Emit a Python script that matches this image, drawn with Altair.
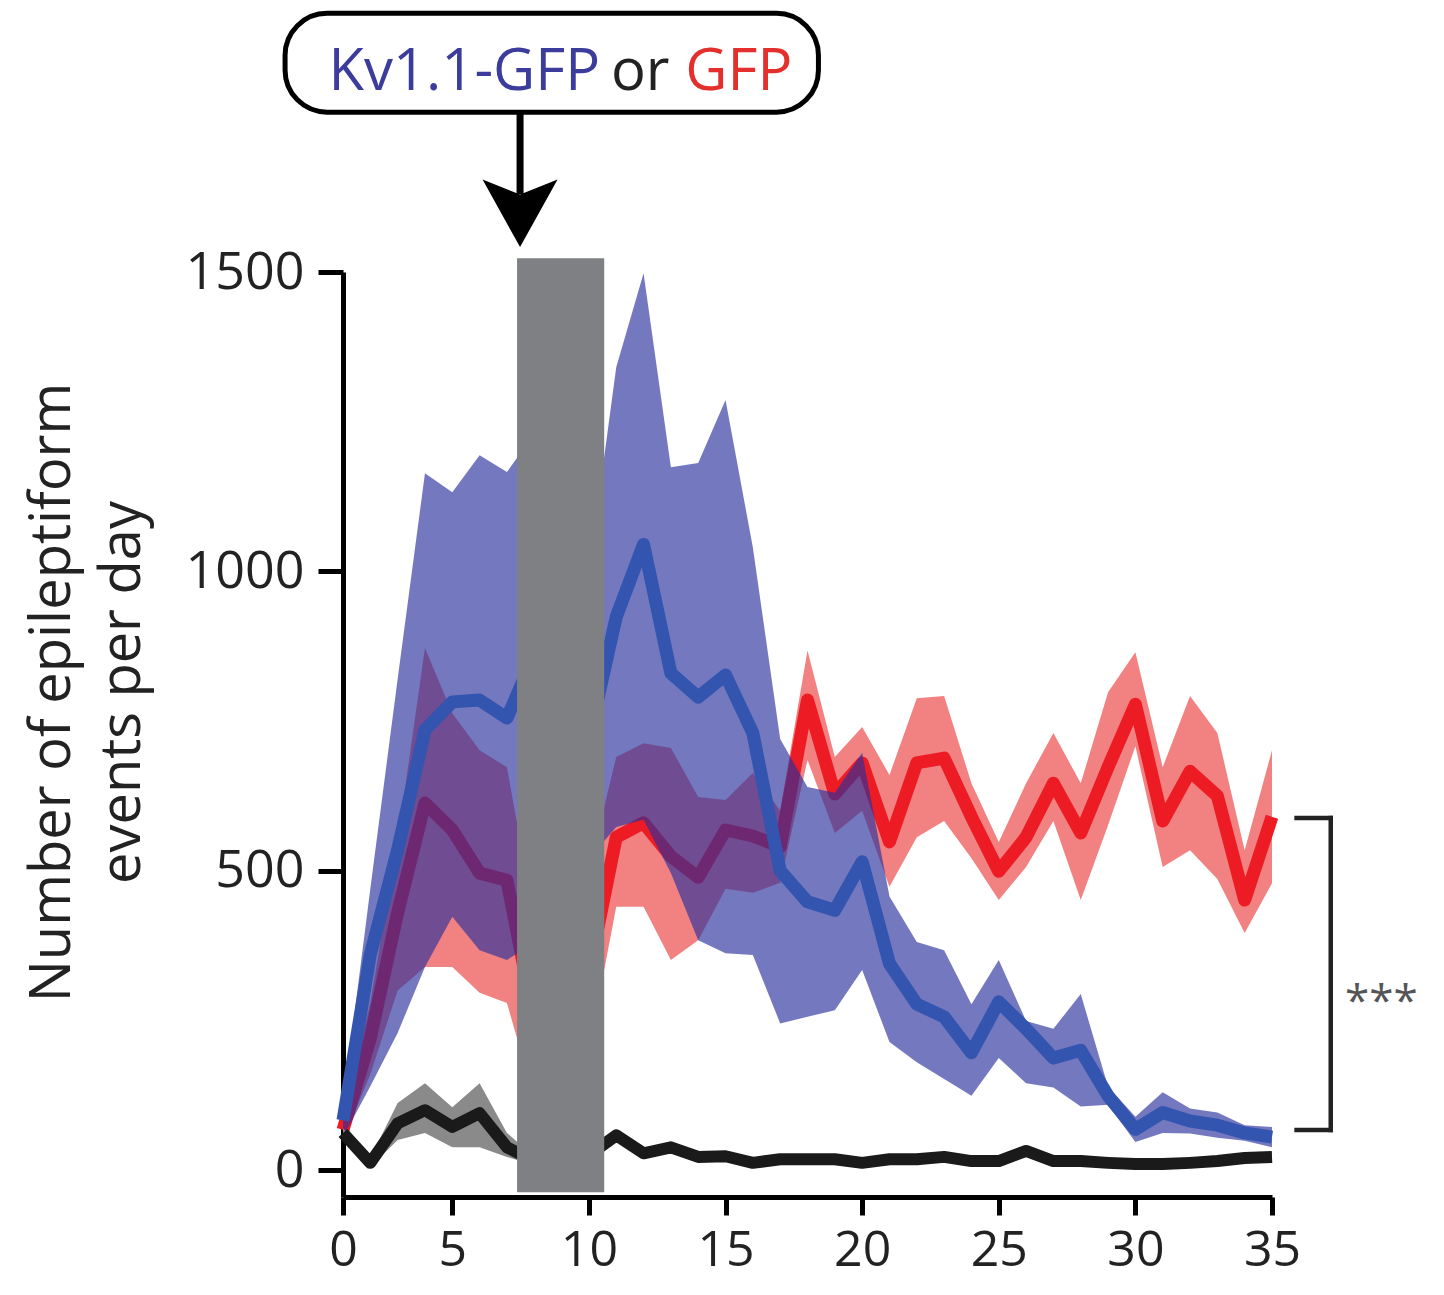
import altair as alt
import pandas as pd

# ---------------- data ----------------
days = list(range(1, 36))

kv_mean = [83, 360, 535, 735, 782, 785, 755, 860, 800, 720,
           924, 1045, 830, 790, 827, 730, 500, 448, 434, 515,
           345, 277, 256, 196, 281, 236, 187, 200, 124, 68,
           96, 82, 75, 62, 55]
kv_hi = [110, 470, 820, 1164, 1132, 1194, 1166, 1230, 1150, 1000,
         1341, 1498, 1174, 1181, 1286, 1040, 720, 640, 630, 697,
         457, 381, 367, 277, 351, 249, 236, 294, 139, 89,
         130, 103, 96, 75, 72]
kv_lo = [55, 140, 229, 339, 423, 367, 351, 380, 450, 520,
         573, 585, 496, 384, 362, 359, 245, 256, 267, 334,
         214, 180, 152, 124, 187, 145, 138, 106, 109, 47,
         62, 61, 54, 49, 38]

gfp_mean = [67, 220, 430, 613, 568, 496, 484, 250, 280, 330,
            556, 580, 524, 489, 568, 558, 540, 785, 628, 680,
            548, 680, 688, 590, 499, 556, 646, 563, 673, 778,
            583, 666, 625, 451, 590]
gfp_hi = [85, 280, 550, 872, 763, 701, 673, 420, 450, 500,
          690, 713, 705, 623, 618, 663, 600, 868, 690, 740,
          660, 788, 792, 646, 548, 646, 730, 646, 798, 865,
          673, 792, 730, 534, 701]
gfp_lo = [50, 160, 300, 339, 339, 296, 279, 120, 150, 200,
          440, 440, 351, 384, 470, 463, 480, 685, 563, 600,
          473, 556, 583, 521, 451, 506, 583, 451, 576, 708,
          506, 534, 486, 396, 479]

ctrl_mean = [62, 12, 78, 100, 72, 95, 38, 15, 15, 25,
             58, 28, 38, 22, 23, 12, 18, 18, 18, 12,
             18, 18, 22, 15, 15, 32, 15, 15, 12, 10,
             10, 12, 15, 20, 22]
ctrl_hi = [70, 20, 112, 145, 105, 145, 62, 22, 22, 32,
           66, 36, 46, 30, 31, 20, 26, 26, 26, 20,
           26, 26, 30, 23, 23, 40, 23, 23, 20, 18,
           18, 20, 23, 28, 30]
ctrl_lo = [55, 5, 50, 62, 38, 38, 22, 8, 8, 18,
           50, 20, 30, 14, 15, 4, 10, 10, 10, 4,
           10, 10, 14, 7, 7, 24, 7, 7, 4, 2,
           2, 4, 7, 12, 14]

x_ticks = [1, 5, 10, 15, 20, 25, 30, 35]
y_ticks = [0, 500, 1000, 1500]
y_title = ["Number of epileptiform", "events per day"]

# injection window (grey bar) and annotation anchors, in data units
bar_rows = [{"x": 7.37, "x2": 10.56, "y": -37, "y2": 1523}]
box_rows = [{"x": -1.12, "x2": 18.4, "y": 1767, "y2": 1932}]
arrow_x = 7.48
label_parts = [
    {"t": "Kv1.1-GFP", "x": 10.41, "y": 1804, "c": "#3b3c9b", "a": "right"},
    {"t": "or", "x": 11.88, "y": 1804, "c": "#222222", "a": "center"},
    {"t": "GFP", "x": 13.53, "y": 1804, "c": "#e3302c", "a": "left"},
]
bracket_rows = [
    {"x": 37.15, "x2": 37.15, "y": 67, "y2": 588},
    {"x": 35.9, "x2": 37.15, "y": 67, "y2": 67},
    {"x": 35.9, "x2": 37.15, "y": 588, "y2": 588},
]
stars = [{"x": 39.0, "y": 257, "t": "***"}]

# ---------------- tables ----------------
def series(name, m, lo, hi):
    return pd.DataFrame({"day": days, "mean": m, "lo": lo, "hi": hi, "group": name})

kv = series("Kv1.1-GFP", kv_mean, kv_lo, kv_hi)
gfp = series("GFP", gfp_mean, gfp_lo, gfp_hi)
ctrl = series("control", ctrl_mean, ctrl_lo, ctrl_hi)

FONT = "Open Sans"
xscale = alt.Scale(domain=[1, 35], nice=False, zero=False)
yscale = alt.Scale(domain=[-45, 1500], nice=False, zero=False)

xaxis = alt.Axis(values=x_ticks, labelExpr="datum.value == 1 ? '0' : datum.label",
                 title=None, grid=False, domainColor="black", domainWidth=5,
                 tickColor="black", tickWidth=5, tickSize=18,
                 labelFont=FONT, labelFontSize=50, labelColor="#222222",
                 labelPadding=10, labelFlush=False, labelOverlap=False)
yaxis = alt.Axis(values=y_ticks, format="d", title=y_title, grid=False,
                 domainColor="black", domainWidth=5, tickColor="black",
                 tickWidth=5, tickSize=25,
                 labelFont=FONT, labelFontSize=52, labelColor="#222222",
                 labelPadding=14, labelFlush=False, labelOverlap=False,
                 titleFont=FONT, titleFontSize=56, titleFontWeight="normal",
                 titleColor="#222222", titlePadding=34, titleLineHeight=70,
                 titleY=420)


def X(field):
    return alt.X(field, type="quantitative", scale=xscale, axis=xaxis)


def Y(field):
    return alt.Y(field, type="quantitative", scale=yscale, axis=yaxis)


def band(df, color, opacity=1.0):
    return alt.Chart(df).mark_area(color=color, opacity=opacity).encode(
        x=X("day"), y=Y("lo"), y2="hi")


def line(df, color, width):
    return alt.Chart(df).mark_line(color=color, strokeWidth=width, strokeJoin="round").encode(
        x=X("day"), y=Y("mean"))


red_band = band(gfp, "#f28282")
red_line = line(gfp, "#ed1c24", 13)
blue_band = band(kv, "#2a309b", opacity=0.65)
blue_line = line(kv, "#3355af", 13)
black_band = band(ctrl, "#8a8a8a")
black_line = line(ctrl, "#1a1a1a", 12)

grey_bar = alt.Chart(pd.DataFrame(bar_rows)).mark_rect(color="#7f8083").encode(
    x=X("x"), x2="x2", y=Y("y"), y2="y2")

box = alt.Chart(pd.DataFrame(box_rows)).mark_rect(
    fill="white", stroke="black", strokeWidth=5, cornerRadius=42).encode(
    x=X("x"), x2="x2", y=Y("y"), y2="y2")

shaft = alt.Chart(pd.DataFrame([{"x": arrow_x, "y": 1767, "y2": 1630}])).mark_rule(
    color="black", strokeWidth=7).encode(x=X("x"), y=Y("y"), y2="y2")

head = alt.Chart(pd.DataFrame([{"x": arrow_x, "y": 1598}])).mark_point(
    shape="M0,0.9 L-1,-0.9 L0,-0.5 L1,-0.9 Z", size=5625, filled=True,
    color="black", opacity=1).encode(x=X("x"), y=Y("y"))

texts = []
for p in label_parts:
    texts.append(alt.Chart(pd.DataFrame([p])).mark_text(
        font=FONT, fontSize=58, color=p["c"], align=p["a"], baseline="alphabetic").encode(
        x=X("x"), y=Y("y"), text="t:N"))

bracket = alt.Chart(pd.DataFrame(bracket_rows)).mark_rule(
    color="#222222", strokeWidth=4.5, strokeCap="square").encode(
    x=X("x"), x2="x2", y=Y("y"), y2="y2")

star_text = alt.Chart(pd.DataFrame(stars)).mark_text(
    font=FONT, fontSize=44, color="#555555", align="center", baseline="alphabetic").encode(
    x=X("x"), y=Y("y"), text="t:N")

chart = alt.layer(
    red_band, red_line, blue_band, blue_line, black_band, black_line,
    grey_bar, box, shaft, head, *texts, bracket, star_text
).properties(
    width=929, height=925,
    autosize=alt.AutoSizeParams(type="none"),
    padding={"left": 335, "top": 264, "right": 164, "bottom": 96},
).configure(font=FONT).configure_view(strokeWidth=0)

chart.save("out.html", embed_options={"renderer": "svg", "actions": False})
